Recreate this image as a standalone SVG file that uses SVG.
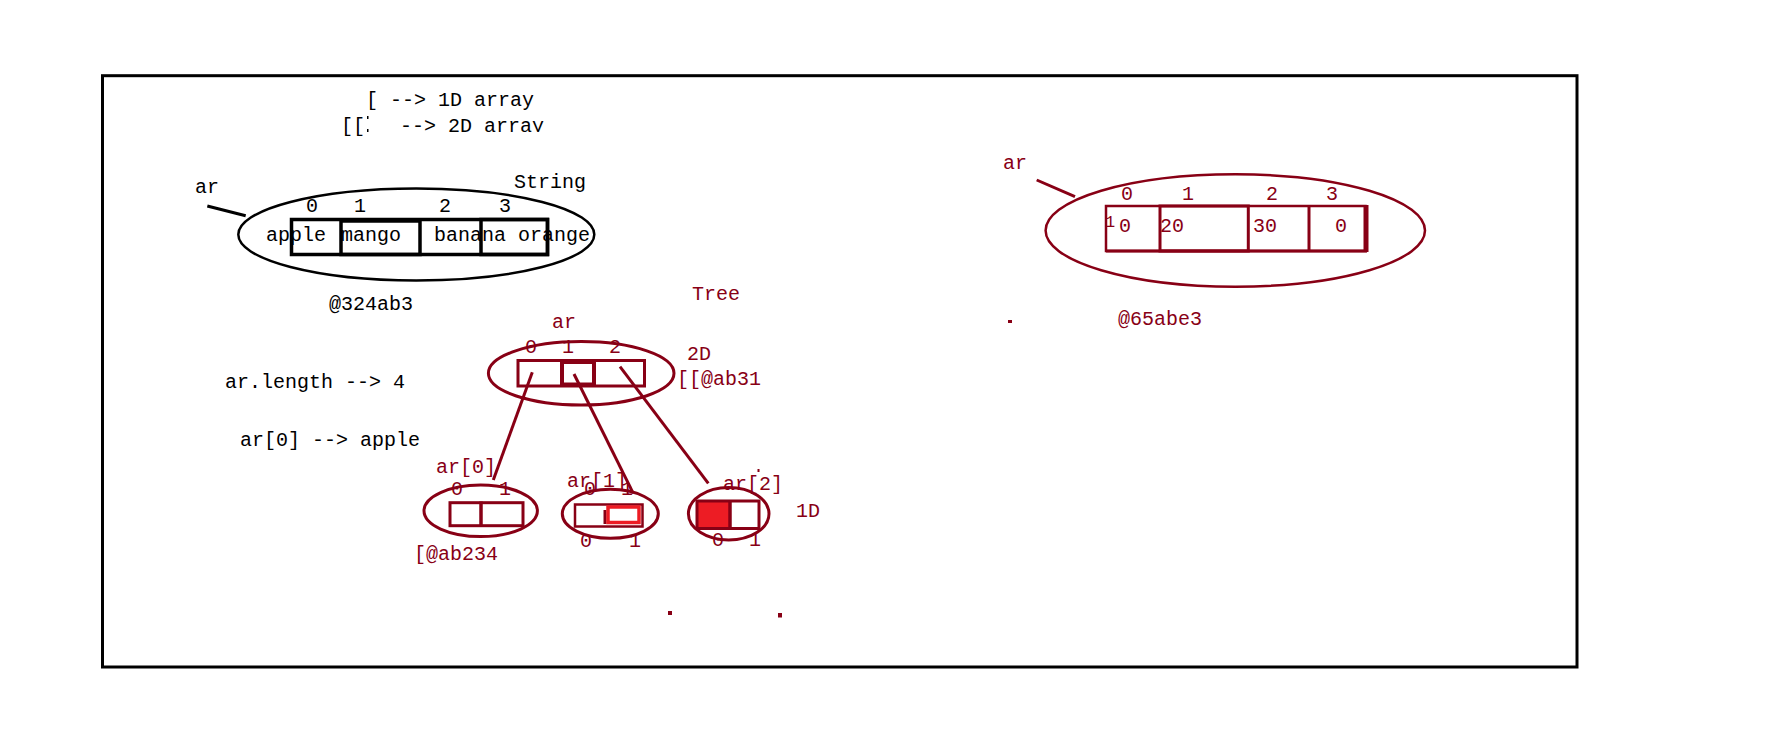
<svg xmlns="http://www.w3.org/2000/svg" width="1771" height="743" viewBox="0 0 1771 743">
<style>
text{font-family:"Liberation Mono","DejaVu Sans Mono",monospace;font-size:20px}
.k{fill:#000}
.r{fill:#880015}
.kb{fill:none;stroke:#000}
.rb{fill:none;stroke:#880015}
.c{stroke:#880015;stroke-width:3}
</style>
<defs>
<clipPath id="cl2"><rect x="395" y="110" width="200" height="22"/></clipPath>
</defs>
<rect x="102.5" y="75.7" width="1474.5" height="591.3" fill="none" stroke="#000" stroke-width="3"/>

<g id="legend">
<text class="k" x="366" y="106">[ --&gt; 1D array</text>
<text class="k" x="341" y="132">[[</text>
<rect x="367" y="116" width="1.5" height="3" fill="#000"/>
<rect x="367" y="129" width="1.5" height="3" fill="#000"/>
<text class="k" x="400" y="132" clip-path="url(#cl2)">--&gt; 2D array</text>
</g>

<g id="string-array">
<text class="k" x="195" y="193">ar</text>
<text class="k" x="514" y="188">String</text>
<ellipse class="kb" cx="416.3" cy="234.5" rx="178" ry="46" stroke-width="2.5"/>
<rect class="kb" x="291.5" y="219.5" width="256" height="35" stroke-width="3.5"/>
<rect class="kb" x="341" y="221" width="79" height="33.5" stroke-width="3.5"/>
<rect class="kb" x="481" y="219.5" width="66.5" height="35" stroke-width="3.5"/>
<text class="k" x="306" y="212">0</text>
<text class="k" x="354" y="212">1</text>
<text class="k" x="439" y="212">2</text>
<text class="k" x="499" y="212">3</text>
<text class="k" x="266" y="241">apple</text>
<text class="k" x="341" y="241">mango</text>
<text class="k" x="434" y="241">banana orange</text>
<text class="k" x="329" y="310">@324ab3</text>
</g>

<g id="notes">
<text class="k" x="225" y="388">ar.length --&gt; 4</text>
<text class="k" x="240" y="446">ar[0] --&gt; apple</text>
</g>

<g id="tree-2d">
<text class="r" x="692" y="300">Tree</text>
<text class="r" x="552" y="328">ar</text>
<ellipse class="rb" cx="581.2" cy="373.3" rx="92.8" ry="31.7" stroke-width="3"/>
<rect class="rb" x="518" y="360.5" width="126.5" height="25.5" stroke-width="3"/>
<line x1="561.5" y1="360" x2="561.5" y2="387" stroke="#880015" stroke-width="3"/>
<rect class="rb" x="562" y="362" width="32" height="22.5" stroke-width="4"/>
<text class="r" x="525" y="353">0</text>
<text class="r" x="562" y="353">1</text>
<text class="r" x="609" y="353">2</text>
<text class="r" x="687" y="360">2D</text>
<text class="r" x="677" y="385">[[@ab31</text>
</g>

<g id="row0">
<text class="r" x="436" y="473">ar[0]</text>
<ellipse class="rb" cx="480.7" cy="510.8" rx="56.7" ry="25.8" stroke-width="3"/>
<rect class="rb" x="450" y="502.7" width="73" height="23" stroke-width="3"/>
<line x1="481" y1="501.5" x2="481" y2="527" stroke="#880015" stroke-width="3.5"/>
<text class="r" x="451" y="495">0</text>
<text class="r" x="499" y="495">1</text>
<text class="r" x="414" y="560">[@ab234</text>
</g>

<g id="row1">
<text class="r" x="567" y="487">ar[1]</text>
<text class="r" x="584" y="495">0</text>
<text class="r" x="621" y="495">1</text>
<ellipse class="rb" cx="610.3" cy="513.8" rx="48" ry="24.5" stroke-width="3"/>
<rect class="rb" x="575" y="504.5" width="67.5" height="22" stroke-width="2.5"/>
<line x1="605" y1="510" x2="605" y2="524" stroke="#880015" stroke-width="3"/>
<rect x="608" y="507" width="31" height="15.5" fill="#fff" stroke="#ED1C24" stroke-width="3.5"/>
<text class="r" x="580" y="547">0</text>
<text class="r" x="629" y="547">1</text>
</g>

<g id="row2">
<text class="r" x="723" y="490">ar[2]</text>
<rect x="757.5" y="469" width="2" height="3" fill="#880015"/>
<ellipse class="rb" cx="728.7" cy="513.8" rx="40.3" ry="26.2" stroke-width="3"/>
<rect x="697" y="501" width="32.5" height="27.5" fill="#ED1C24"/>
<rect class="rb" x="697" y="501" width="62" height="27.5" stroke-width="3"/>
<line x1="730" y1="500" x2="730" y2="529.5" stroke="#880015" stroke-width="3.5"/>
<text class="r" x="712" y="546">0</text>
<text class="r" x="749" y="546">1</text>
<text class="r" x="796" y="517">1D</text>
</g>

<g id="int-array">
<text class="r" x="1003" y="169">ar</text>
<ellipse class="rb" cx="1235.3" cy="230.5" rx="189.7" ry="56.2" stroke-width="2.5"/>
<rect class="rb" x="1106" y="206" width="259.5" height="45" stroke-width="2.5"/>
<rect class="rb" x="1160" y="206" width="88.3" height="45" stroke-width="3"/>
<line x1="1309" y1="205" x2="1309" y2="252" stroke="#880015" stroke-width="3"/>
<line x1="1366" y1="205" x2="1366" y2="252" stroke="#880015" stroke-width="5"/>
<line x1="1106" y1="251" x2="1367" y2="251" stroke="#880015" stroke-width="3"/>
<text class="r" x="1121" y="200">0</text>
<text class="r" x="1182" y="200">1</text>
<text class="r" x="1266" y="200">2</text>
<text class="r" x="1326" y="200">3</text>
<text class="r" x="1105" y="227" style="font-size:17px">1</text>
<text class="r" x="1119" y="232">0</text>
<text class="r" x="1160" y="232">20</text>
<text class="r" x="1253" y="232">30</text>
<text class="r" x="1335" y="232">0</text>
<text class="r" x="1118" y="325">@65abe3</text>
<rect x="1008" y="320" width="4" height="3" fill="#880015"/>
</g>

<g id="connectors">
<line x1="207.3" y1="206" x2="245.7" y2="215.7" stroke="#000" stroke-width="3"/>
<line class="c" x1="1036.7" y1="180" x2="1075" y2="196.7"/>
<line class="c" x1="532.3" y1="372.3" x2="493.3" y2="480"/>
<line class="c" x1="574" y1="374" x2="633.3" y2="493.3"/>
<line class="c" x1="620" y1="366.7" x2="708.3" y2="483.3"/>
</g>

<g id="dots">
<rect x="668" y="611" width="4" height="4" fill="#880015"/>
<rect x="778" y="613" width="4" height="4.5" fill="#880015"/>
</g>
</svg>
